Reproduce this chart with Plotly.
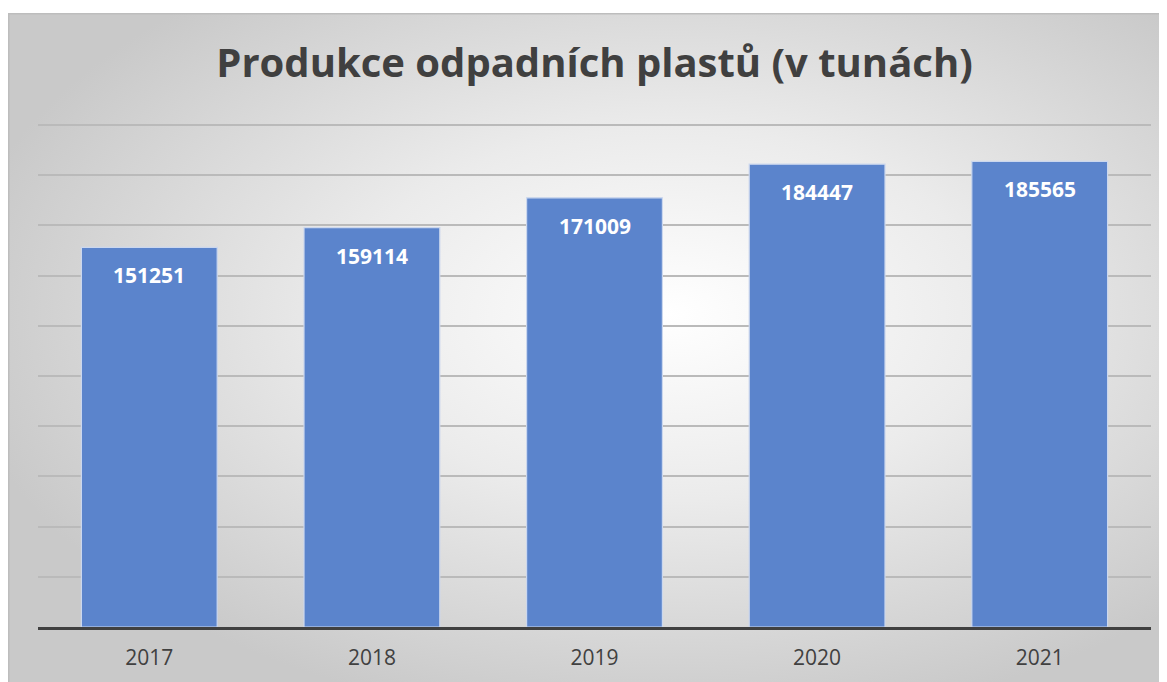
import base64
import plotly.graph_objects as go

roky = ["2017", "2018", "2019", "2020", "2021"]
odpad_tuny = [151251, 159114, 171009, 184447, 185565]

# rozmery figury (stranka ma 8px okraj body)
W, H = 1159, 674
# plot area v souradnicich figury (osa y 0..210000, mrizka do 200000)
L, R, T, B = 30, 1143, 92, 619
BOX_TOP = 5

# radialni gradient pozadi (jako v Excelu) pres SVG obrazek
bw, bh = W, H - BOX_TOP
svg = f"""<svg xmlns='http://www.w3.org/2000/svg' width='{bw}' height='{bh}' viewBox='0 0 {bw} {bh}' preserveAspectRatio='none'>
<defs><radialGradient id='g' cx='0.57' cy='0.45' r='0.62' gradientUnits='objectBoundingBox'>
<stop offset='0' stop-color='#ffffff'/><stop offset='0.45' stop-color='#ebebeb'/>
<stop offset='1' stop-color='#c9c9c9'/></radialGradient></defs>
<rect width='{bw}' height='{bh}' fill='url(#g)'/>
<rect x='0.75' y='0.75' width='{bw + 5}' height='{bh + 5}' fill='none' stroke='#bdbdbd' stroke-width='1.5'/>
</svg>"""
pozadi = "data:image/svg+xml;base64," + base64.b64encode(svg.encode()).decode()

fig = go.Figure()
fig.add_trace(go.Bar(
    x=roky,
    y=odpad_tuny,
    marker=dict(color="#5b84cc", line=dict(color="#cbd7ee", width=1.2)),
    hoverinfo="x+y",
))

# popisky hodnot uvnitr sloupcu (x jako index kategorie)
for i, hodnota in enumerate(odpad_tuny):
    fig.add_annotation(
        x=i, y=hodnota, text="<b>%d</b>" % hodnota,
        showarrow=False, yanchor="middle", yshift=-28,
        font=dict(family="Open Sans", size=21, color="white"),
    )

w = R - L
h = B - T
fig.add_layout_image(
    source=pozadi, xref="paper", yref="paper",
    x=(0 - L) / w, y=(B - BOX_TOP) / h,
    sizex=bw / w, sizey=bh / h,
    xanchor="left", yanchor="top", sizing="stretch", layer="below",
)

fig.update_layout(
    width=W, height=H,
    margin=dict(l=L, r=W - R, t=T, b=H - B),
    paper_bgcolor="white",
    plot_bgcolor="rgba(0,0,0,0)",
    showlegend=False,
    bargap=0.39,
    title=dict(
        text="<b>Produkce odpadních plastů (v tunách)</b>",
        x=0.5, xref="paper", xanchor="center",
        y=(H - 55) / H, yanchor="middle",
        font=dict(family="Open Sans", size=40, color="#404040"),
    ),
    font=dict(family="Open Sans", color="#404040"),
)
fig.update_xaxes(
    type="category", range=[-0.5, 4.5],
    showgrid=False, showline=True, linecolor="#404040", linewidth=3,
    ticks="", ticklabelstandoff=10,
    tickfont=dict(size=21, color="#404040"),
)
fig.update_yaxes(
    range=[0, 210000], tickvals=[20000 * i for i in range(1, 11)],
    showticklabels=False,
    showgrid=True, gridcolor="#bababa", gridwidth=2,
    zeroline=False,
)

fig.write_html("out.html")
